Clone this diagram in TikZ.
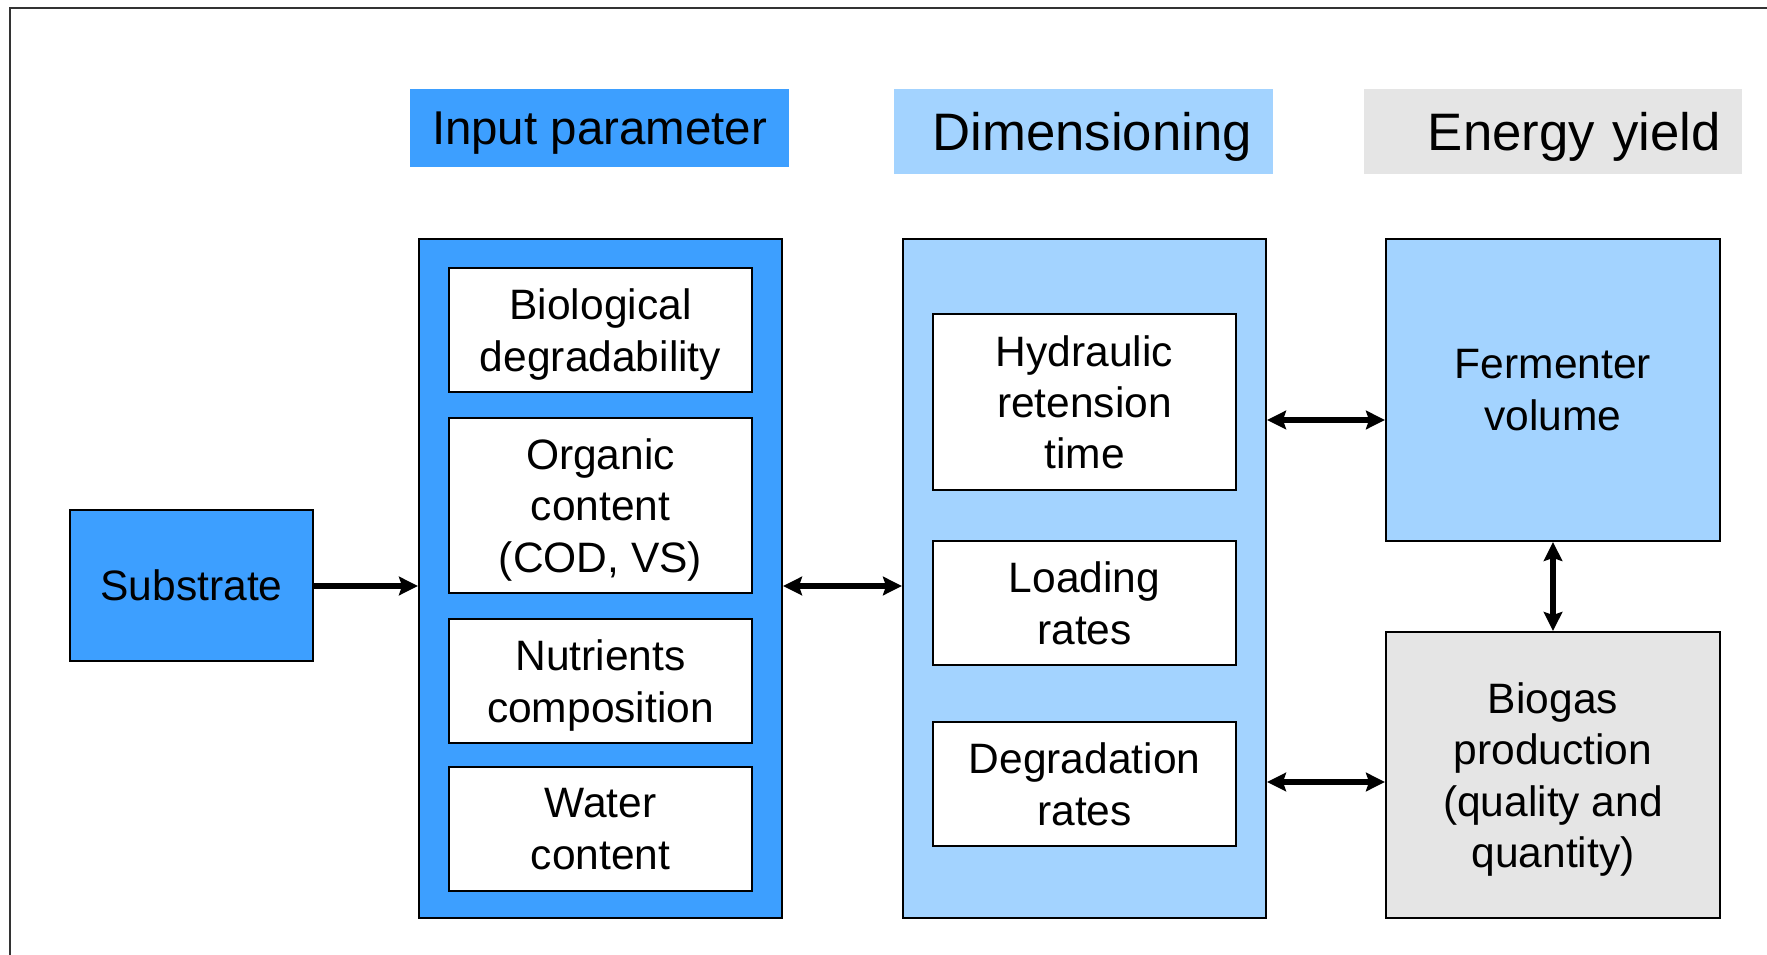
\documentclass[tikz,border=0pt]{standalone}
\usepackage{fontspec}
\setmainfont{Liberation Sans}
\usetikzlibrary{arrows.meta}
\definecolor{blueA}{RGB}{61,159,255}
\definecolor{blueB}{RGB}{163,211,255}
\definecolor{greyA}{RGB}{229,229,229}
\tikzset{
  hdr/.style={draw=none, inner sep=0pt, minimum width=#1, align=right, text width=#1-4.2mm, text depth=0pt},
  grp/.style={draw=black, line width=0.55pt, inner sep=0pt, minimum width=36.3mm, minimum height=67.9mm},
  item/.style={draw=black, fill=white, line width=0.55pt, inner sep=0pt, minimum width=30.3mm, align=center,
    text depth=0pt, font=\fontsize{12.1pt}{14.6pt}\selectfont},
  big/.style={draw=black, line width=0.55pt, inner sep=0pt, minimum width=33.4mm, align=center,
    text depth=0pt, font=\fontsize{12.1pt}{14.6pt}\selectfont},
  tip/.tip={Stealth[length=1.9mm,width=1.85mm,inset=0.3mm]},
  link/.style={line width=1.6pt, tip-tip},
  onelink/.style={line width=1.6pt, -tip}
}
\begin{document}
\begin{tikzpicture}[x=0.1mm,y=-0.1mm]
\useasboundingbox (0,0) rectangle (1767,955);
\fill[white] (0,0) rectangle (1767,955);
% frame
\draw[black!80, line width=0.6pt] (10,955) -- (10,8) -- (1767,8);

% headers
\node[draw=none, inner sep=0pt, fill=blueA, minimum width=37.9mm, minimum height=7.8mm, text depth=0pt, font=\fontsize{13.5pt}{16pt}\selectfont] (hIn) at (599.5,128) {Input parameter};
\node[hdr=37.9mm, fill=blueB, minimum height=8.5mm, font=\fontsize{15pt}{18pt}\selectfont] (hDim) at (1083.5,131.5) {Dimensioning};
\node[hdr=37.8mm, fill=greyA, minimum height=8.5mm, font=\fontsize{15pt}{18pt}\selectfont] (hEn) at (1553,131.5) {Energy yield};

% substrate
\node[big, fill=blueA, minimum width=24.3mm, minimum height=15.1mm] (sub) at (191.5,585.5) {Substrate};

% input group
\node[grp, fill=blueA] (inBox) at (600.5,578.5) {};
\node[item, minimum height=12.4mm] (in1) at (600.5,330) {Biological\\degradability};
\node[item, minimum height=17.5mm] (in2) at (600.5,505.5) {Organic\\content\\(COD, VS)};
\node[item, minimum height=12.4mm] (in3) at (600.5,681) {Nutrients\\composition};
\node[item, minimum height=12.4mm] (in4) at (600.5,829) {Water\\content};

% dimensioning group
\node[grp, fill=blueB] (dimBox) at (1084.5,578.5) {};
\node[item, minimum height=17.6mm] (d1) at (1084.5,402) {Hydraulic\\retension\\time};
\node[item, minimum height=12.4mm] (d2) at (1084.5,603) {Loading\\rates};
\node[item, minimum height=12.4mm] (d3) at (1084.5,784) {Degradation\\rates};

% energy yield
\node[big, fill=blueB, minimum height=30.2mm] (ferm) at (1553,390) {Fermenter\\volume};
\node[big, fill=greyA, minimum height=28.6mm] (bio) at (1553,775) {Biogas\\production\\(quality and\\quantity)};

% connectors
\coordinate (yA) at (0,586);
\coordinate (yB) at (0,420);
\coordinate (yC) at (0,782);
\draw[onelink] (sub.east |- yA) -- (inBox.west |- yA);
\draw[link] (inBox.east |- yA) -- (dimBox.west |- yA);
\draw[link] (dimBox.east |- yB) -- (ferm.west |- yB);
\draw[link] (dimBox.east |- yC) -- (bio.west |- yC);
\draw[link] (ferm.south) -- (bio.north);
\end{tikzpicture}
\end{document}
